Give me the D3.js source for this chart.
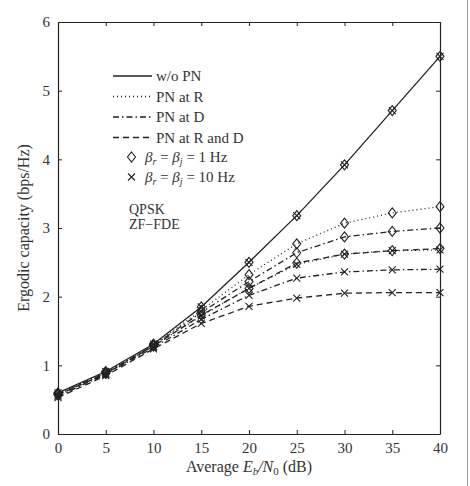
<!DOCTYPE html>
<html><head><meta charset="utf-8">
<script src="https://cdn.jsdelivr.net/npm/d3@7"></script>
<style>body{margin:0;background:#fff}svg{display:block}</style>
</head><body><svg id="c" width="470" height="486" font-family="'Liberation Serif', 'DejaVu Serif', serif"></svg>
<script>
const snr = [0,5,10,15,20,25,30,35,40];
const woPN  = [0.60,0.91,1.31,1.85,2.50,3.18,3.92,4.71,5.50];
const R_1   = [0.59,0.90,1.30,1.80,2.32,2.77,3.07,3.22,3.31];
const D_1   = [0.58,0.89,1.29,1.77,2.22,2.64,2.87,2.95,3.00];
const RD_1  = [0.57,0.88,1.28,1.73,2.12,2.49,2.62,2.67,2.70];
const R_10  = [0.57,0.88,1.28,1.72,2.12,2.47,2.62,2.67,2.68];
const D_10  = [0.55,0.87,1.26,1.67,2.02,2.27,2.36,2.39,2.40];
const RD_10 = [0.53,0.85,1.24,1.61,1.86,1.98,2.05,2.06,2.06];
const xTicks = [0,5,10,15,20,25,30,35,40];
const yTicks = [0,1,2,3,4,5,6];

const series = [
  {v: woPN, dash: null, markers: ["diamond","cross"]},
  {v: R_1, dash: "1,3", markers: ["diamond"]},
  {v: D_1, dash: "6,3,1.5,3", markers: ["diamond"]},
  {v: RD_1, dash: "6,4", markers: ["diamond"]},
  {v: R_10, dash: "1,3", markers: ["cross"]},
  {v: D_10, dash: "6,3,1.5,3", markers: ["cross"]},
  {v: RD_10, dash: "6,4", markers: ["cross"]}
];

const FONT = "'Liberation Serif', 'DejaVu Serif', serif";
const svg = d3.select("#c");
const L=58, R=440, T=22, B=434;
const x = d3.scaleLinear().domain([0,40]).range([L,R]);
const y = d3.scaleLinear().domain([0,6]).range([B,T]);
const col = "#222";

svg.append("line").attr("x1",467.5).attr("x2",467.5).attr("y1",0).attr("y2",486).attr("stroke","#999").attr("stroke-width",1);

const fmt = d3.format("d");
const gx = svg.append("g").attr("transform",`translate(0,${B})`).call(d3.axisBottom(x).tickValues(xTicks).tickFormat(fmt).tickSizeInner(-4).tickSizeOuter(0).tickPadding(8));
const gxt = svg.append("g").attr("transform",`translate(0,${T})`).call(d3.axisTop(x).tickValues(xTicks).tickSizeInner(-4).tickSizeOuter(0).tickFormat(""));
const gy = svg.append("g").attr("transform",`translate(${L},0)`).call(d3.axisLeft(y).tickValues(yTicks).tickFormat(fmt).tickSizeInner(-4).tickSizeOuter(0).tickPadding(8));
const gyr = svg.append("g").attr("transform",`translate(${R},0)`).call(d3.axisRight(y).tickValues(yTicks).tickSizeInner(-4).tickSizeOuter(0).tickFormat(""));
[gx,gxt,gy,gyr].forEach(g=>{
  g.attr("font-family",FONT).attr("font-size",15);
  g.selectAll("path").attr("stroke",col).attr("stroke-width",1.2);
  g.selectAll("line").attr("stroke",col);
  g.selectAll("text").attr("fill","#333");
});

const line = d3.line().x((d,i)=>x(snr[i])).y(d=>y(d));
series.forEach(s=>{
  const p = svg.append("path").attr("d",line(s.v)).attr("fill","none").attr("stroke",col).attr("stroke-width",1.3);
  if(s.dash) p.attr("stroke-dasharray",s.dash);
});
function marker(g,type,cx,cy){
  if(type==="diamond"){
    g.append("path").attr("d",`M${cx},${cy-5}L${cx+4},${cy}L${cx},${cy+5}L${cx-4},${cy}Z`).attr("fill","none").attr("stroke",col).attr("stroke-width",1.1);
  } else {
    g.append("path").attr("d",`M${cx-3.5},${cy-3.5}L${cx+3.5},${cy+3.5}M${cx-3.5},${cy+3.5}L${cx+3.5},${cy-3.5}`).attr("fill","none").attr("stroke",col).attr("stroke-width",1.1);
  }
}
const mg = svg.append("g");
series.forEach(s=>{
  s.v.forEach((d,i)=>s.markers.forEach(m=>marker(mg,m,x(snr[i]),y(d))));
});

const lg = svg.append("g").attr("font-family",FONT).attr("fill","#333");
const legendLines = [
  {label:"w/o PN", dash:null},
  {label:"PN at R", dash:"1,3"},
  {label:"PN at D", dash:"6,3,1.5,3"},
  {label:"PN at R and D", dash:"6,4"}
];
legendLines.forEach((d,i)=>{
  const yy = 76 + i*20.5;
  const l = lg.append("line").attr("x1",113).attr("x2",152).attr("y1",yy).attr("y2",yy).attr("stroke",col).attr("stroke-width",1.3);
  if(d.dash) l.attr("stroke-dasharray",d.dash);
  lg.append("text").attr("x",156).attr("y",yy+5).attr("font-size",15).text(d.label);
});
const legendMarkers = [{m:"diamond",hz:"1 Hz"},{m:"cross",hz:"10 Hz"}];
legendMarkers.forEach((d,i)=>{
  const yy = 157 + i*20;
  marker(lg,d.m,131.5,yy);
  const t = lg.append("text").attr("x",145).attr("y",yy+5).attr("font-size",15);
  t.append("tspan").attr("font-style","italic").text("β");
  t.append("tspan").attr("font-style","italic").attr("font-size",10).attr("dy",3).text("r");
  t.append("tspan").attr("dy",-3).text(" = ");
  t.append("tspan").attr("font-style","italic").text("β");
  t.append("tspan").attr("font-style","italic").attr("font-size",10).attr("dy",3).text("j");
  t.append("tspan").attr("dy",-3).text(" = " + d.hz);
});
lg.append("text").attr("x",129).attr("y",214).attr("font-size",14).text("QPSK");
lg.append("text").attr("x",129).attr("y",229).attr("font-size",14).text("ZF\u2212FDE");

const xl = svg.append("text").attr("font-family",FONT).attr("fill","#333").attr("x",(L+R)/2).attr("y",472).attr("text-anchor","middle").attr("font-size",16);
xl.append("tspan").text("Average ");
xl.append("tspan").attr("font-style","italic").text("E");
xl.append("tspan").attr("font-style","italic").attr("font-size",11).attr("dy",3).text("b");
xl.append("tspan").attr("dy",-3).attr("font-style","italic").text("/N");
xl.append("tspan").attr("font-size",11).attr("dy",3).text("0");
xl.append("tspan").attr("dy",-3).text(" (dB)");
svg.append("text").attr("font-family",FONT).attr("fill","#333").attr("transform",`translate(29,${(T+B)/2}) rotate(-90)`).attr("text-anchor","middle").attr("font-size",16).text("Ergodic capacity (bps/Hz)");
</script></body></html>
